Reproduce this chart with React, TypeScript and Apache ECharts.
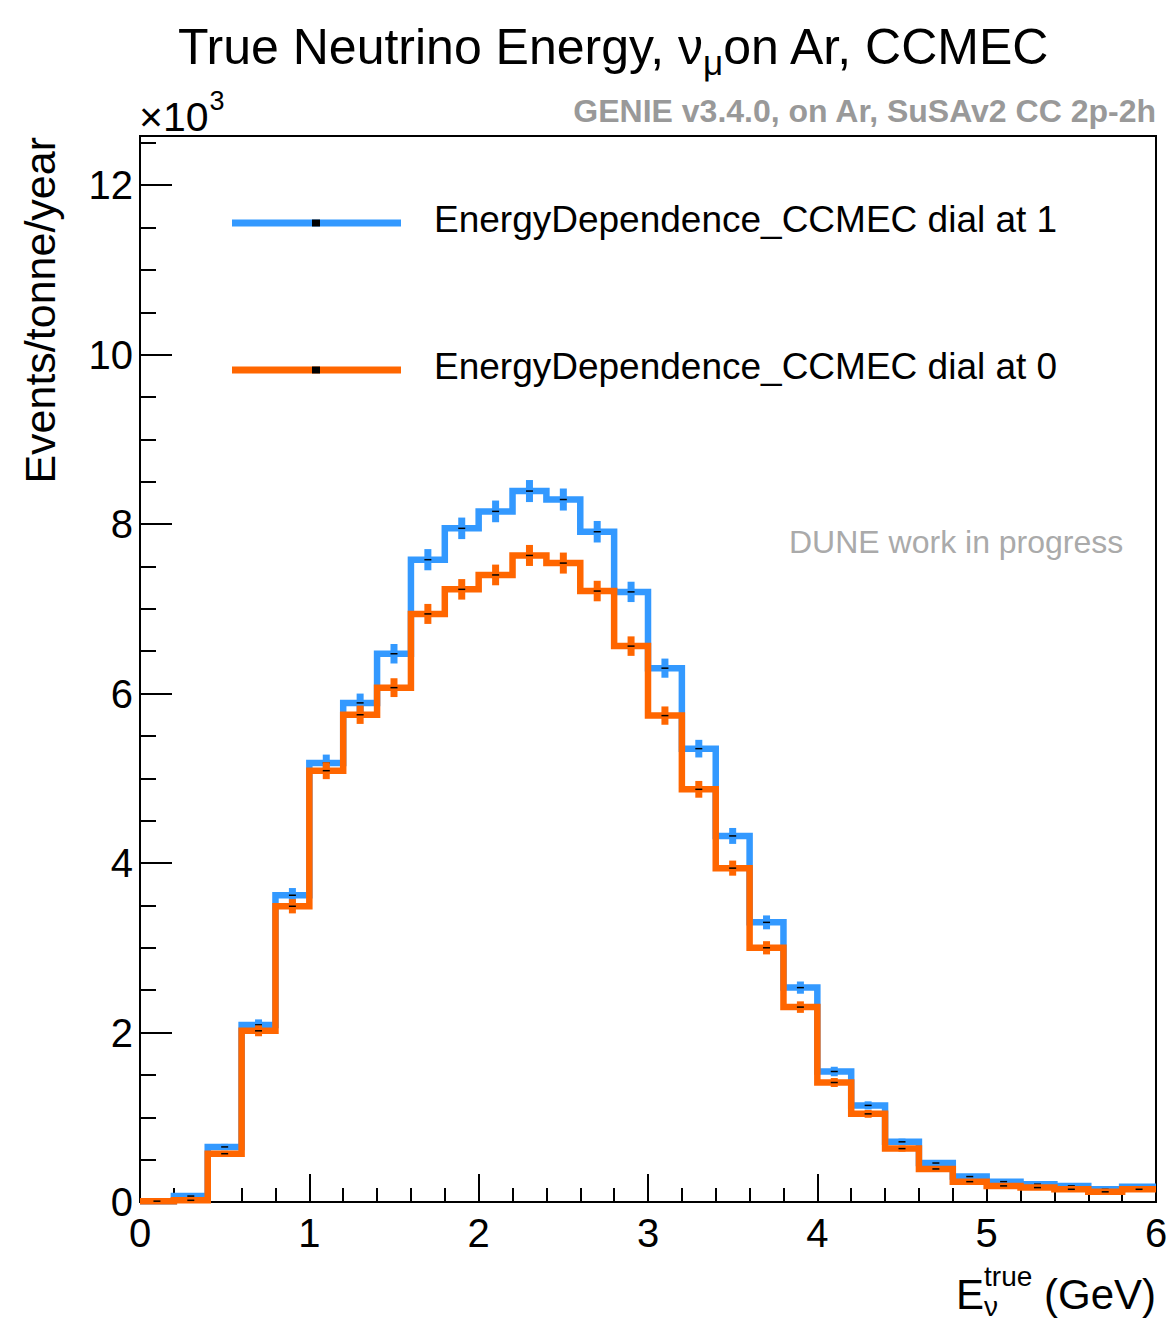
import React, { useEffect, useRef } from "react";
import * as echarts from "echarts";

// ---------------- data (values in units of 10^3 events/tonne/year) ----------------
const BIN_LOW_EDGES = [
  0.0, 0.2, 0.4, 0.6, 0.8, 1.0, 1.2, 1.4, 1.6, 1.8,
  2.0, 2.2, 2.4, 2.6, 2.8, 3.0, 3.2, 3.4, 3.6, 3.8,
  4.0, 4.2, 4.4, 4.6, 4.8, 5.0, 5.2, 5.4, 5.6, 5.8,
];
const BIN_WIDTH = 0.2;

const DIAL1_VALUES = [
  0.01, 0.07, 0.65, 2.09, 3.62, 5.18, 5.89, 6.47, 7.58, 7.95,
  8.15, 8.39, 8.29, 7.91, 7.20, 6.30, 5.35, 4.32, 3.30, 2.53,
  1.54, 1.14, 0.71, 0.46, 0.30, 0.24, 0.21, 0.19, 0.15, 0.18,
];
const DIAL1_ERRORS = [
  0.005, 0.012, 0.036, 0.065, 0.085, 0.10, 0.11, 0.115, 0.125, 0.127,
  0.128, 0.13, 0.13, 0.127, 0.12, 0.113, 0.104, 0.094, 0.082, 0.072,
  0.056, 0.048, 0.038, 0.031, 0.025, 0.022, 0.021, 0.02, 0.017, 0.019,
];
const DIAL0_VALUES = [
  0.01, 0.02, 0.57, 2.02, 3.49, 5.09, 5.75, 6.07, 6.94, 7.23,
  7.40, 7.63, 7.54, 7.21, 6.56, 5.74, 4.87, 3.94, 3.00, 2.30,
  1.41, 1.04, 0.63, 0.39, 0.24, 0.19, 0.17, 0.15, 0.12, 0.15,
];
const DIAL0_ERRORS = [
  0.005, 0.006, 0.034, 0.064, 0.084, 0.10, 0.108, 0.111, 0.118, 0.121,
  0.122, 0.124, 0.124, 0.121, 0.115, 0.108, 0.099, 0.089, 0.078, 0.068,
  0.053, 0.046, 0.036, 0.028, 0.022, 0.02, 0.019, 0.017, 0.016, 0.017,
];

const SERIES_NAMES = [
  "EnergyDependence_CCMEC dial at 1",
  "EnergyDependence_CCMEC dial at 0",
];
const X_MIN = 0;
const X_MAX = 6;
const X_INTERVAL = 1;
const Y_MIN = 0;
const Y_MAX = 12.58;
const Y_INTERVAL = 2;
const Y_MINOR_INTERVAL = 0.5;

const TITLE_MAIN = "True Neutrino Energy, \u03bd";
const TITLE_SUB = "\u03bc";
const TITLE_REST = "on Ar, CCMEC";
const GENIE_TEXT = "GENIE v3.4.0, on Ar, SuSAv2 CC 2p-2h";
const DUNE_TEXT = "DUNE work in progress";
const Y_TITLE = "Events/tonne/year";
const X_TITLE_MAIN = "E";
const X_TITLE_SUP = "true";
const X_TITLE_SUB = "\u03bd";
const X_TITLE_UNIT = " (GeV)";

// ---------------- styles ----------------
const BLUE = "#3399ff";
const ORANGE = "#ff6600";
const FONT = "'Liberation Sans', Arial, Helvetica, sans-serif";
const LINE_W = 6.5;

const GRID_LEFT = 140;
const GRID_TOP = 136;
const GRID_RIGHT_X = 1156;
const GRID_BOTTOM_Y = 1202;
const W = 1167;
const H = 1321;

let measureCtx: CanvasRenderingContext2D | null = null;
function measure(text: string, size: number, weight = "normal"): number {
  if (!measureCtx) measureCtx = document.createElement("canvas").getContext("2d");
  if (!measureCtx) return text.length * size * 0.55;
  measureCtx.font = `${weight} ${size}px ${FONT}`;
  return measureCtx.measureText(text).width;
}

function stepData(values: number[]) {
  const pts = BIN_LOW_EDGES.map((x, i) => [x, values[i]]);
  const last = BIN_LOW_EDGES.length - 1;
  pts.push([BIN_LOW_EDGES[last] + BIN_WIDTH, values[last]]);
  return pts;
}

function errData(values: number[], errors: number[]) {
  return BIN_LOW_EDGES.map((x, i) => [x + BIN_WIDTH / 2, values[i], errors[i]]);
}

function makeErrRender(color: string) {
  return (_params: any, api: any) => {
    const x = api.value(0);
    const v = api.value(1);
    const e = api.value(2);
    const top = api.coord([x, v + e]);
    const bot = api.coord([x, v - e]);
    const mid = api.coord([x, v]);
    return {
      type: "group",
      children: [
        {
          type: "rect",
          shape: { x: top[0] - 3.5, y: top[1], width: 7, height: Math.max(bot[1] - top[1], 0) },
          style: { fill: color },
        },
        {
          type: "rect",
          shape: { x: mid[0] - 3.5, y: mid[1] - 0.75, width: 7, height: 1.5 },
          style: { fill: "#000" },
        },
      ],
    };
  };
}

function txt(
  text: string,
  x: number,
  y: number,
  size: number,
  opts: { color?: string; weight?: string; align?: string; rotation?: number } = {}
) {
  const align = opts.align || "left";
  return {
    type: "text",
    x,
    y,
    rotation: opts.rotation || 0,
    silent: true,
    z: 100,
    style: {
      text,
      fontSize: size,
      fontFamily: FONT,
      fontWeight: opts.weight || "normal",
      fill: opts.color || "#000",
      align,
      verticalAlign: "middle",
      textAlign: align,
      textVerticalAlign: "middle",
    },
  };
}

function buildOption() {
  // Title composed of pieces (subscript mu)
  const TS = 50;
  const TSS = 35;
  const w1 = measure(TITLE_MAIN, TS);
  const w2 = measure(TITLE_SUB, TSS);
  const w3 = measure(TITLE_REST, TS);
  const tStart = 614.5 - (w1 + w2 + w3) / 2;

  // x-axis title pieces
  const XS = 42;
  const XSS = 28;
  const wE = measure(X_TITLE_MAIN, XS);
  const wSup = measure(X_TITLE_SUP, XSS);
  const wSub = measure(X_TITLE_SUB, XSS);
  const wUnit = measure(X_TITLE_UNIT, XS);
  const xtStart = GRID_RIGHT_X - (wE + Math.max(wSup, wSub) + wUnit);

  // x10^3
  const EXP_S = 41;
  const wX10 = measure("\u00d710", EXP_S);

  const legendY = [223, 370];
  const legendColors = [BLUE, ORANGE];

  const graphics: any[] = [
    txt(TITLE_MAIN, tStart, 47, TS),
    txt(TITLE_SUB, tStart + w1, 62, TSS),
    txt(TITLE_REST, tStart + w1 + w2, 47, TS),
    txt(GENIE_TEXT, GRID_RIGHT_X, 111, 32, { color: "#999999", weight: "bold", align: "right" }),
    txt(DUNE_TEXT, 789, 542, 32, { color: "#aaaaaa" }),
    txt("\u00d710", 139, 117, EXP_S),
    txt("3", 139 + wX10 + 1, 101, 27),
    txt(Y_TITLE, 40, GRID_TOP + 1, 43, { align: "right", rotation: Math.PI / 2 }),
    txt(X_TITLE_MAIN, xtStart, 1294, XS),
    txt(X_TITLE_SUP, xtStart + wE, 1276, XSS),
    txt(X_TITLE_SUB, xtStart + wE, 1306, XSS),
    txt(X_TITLE_UNIT, xtStart + wE + Math.max(wSup, wSub), 1294, XS),
  ];
  legendY.forEach((ly, i) => {
    graphics.push({
      type: "line",
      silent: true,
      z: 100,
      shape: { x1: 232, y1: ly, x2: 401, y2: ly },
      style: { stroke: legendColors[i], lineWidth: 7 },
    });
    graphics.push({
      type: "rect",
      silent: true,
      z: 101,
      shape: { x: 312, y: ly - 3.5, width: 8, height: 7 },
      style: { fill: "#000" },
    });
    graphics.push(txt(SERIES_NAMES[i], 434, ly - 4, 37));
  });

  const axisTickStyle = { color: "#000", width: 2 };

  return {
    animation: false,
    backgroundColor: "#ffffff",
    grid: {
      left: GRID_LEFT,
      top: GRID_TOP,
      right: W - GRID_RIGHT_X,
      bottom: H - GRID_BOTTOM_Y,
      show: true,
      borderColor: "#000",
      borderWidth: 2,
      backgroundColor: "transparent",
      containLabel: false,
      outerBoundsMode: "none",
    },
    xAxis: {
      type: "value",
      min: X_MIN,
      max: X_MAX,
      interval: X_INTERVAL,
      axisLine: { show: true, onZero: false, lineStyle: { color: "#000", width: 2 } },
      axisTick: { show: true, inside: true, length: 28, lineStyle: axisTickStyle },
      minorTick: { show: true, splitNumber: 5, length: 14, lineStyle: axisTickStyle },
      splitLine: { show: false },
      minorSplitLine: { show: false },
      axisLabel: {
        show: true,
        fontSize: 40,
        fontFamily: FONT,
        color: "#000",
        margin: 11,
      },
    },
    yAxis: [
      {
        type: "value",
        min: Y_MIN,
        max: Y_MAX,
        interval: Y_INTERVAL,
        position: "left",
        axisLine: { show: true, onZero: false, lineStyle: { color: "#000", width: 2 } },
        axisTick: { show: true, inside: true, length: 32, lineStyle: axisTickStyle },
        splitLine: { show: false },
        axisLabel: {
          show: true,
          fontSize: 40,
          fontFamily: FONT,
          color: "#000",
          margin: 7,
          showMaxLabel: false,
        },
      },
      {
        type: "value",
        min: Y_MIN,
        max: Y_MAX,
        interval: Y_MINOR_INTERVAL,
        position: "left",
        offset: 0,
        axisLine: { show: false },
        axisTick: { show: true, inside: true, length: 16, lineStyle: axisTickStyle },
        splitLine: { show: false },
        axisLabel: { show: false },
      },
    ],
    series: [
      {
        name: SERIES_NAMES[0],
        type: "line",
        step: "end",
        data: stepData(DIAL1_VALUES),
        showSymbol: false,
        symbol: "none",
        silent: true,
        clip: true,
        z: 2,
        lineStyle: { color: BLUE, width: LINE_W, join: "miter", cap: "butt" },
      },
      {
        name: SERIES_NAMES[0] + " errors",
        type: "custom",
        data: errData(DIAL1_VALUES, DIAL1_ERRORS),
        renderItem: makeErrRender(BLUE),
        silent: true,
        clip: true,
        z: 3,
      },
      {
        name: SERIES_NAMES[1],
        type: "line",
        step: "end",
        data: stepData(DIAL0_VALUES),
        showSymbol: false,
        symbol: "none",
        silent: true,
        clip: true,
        z: 4,
        lineStyle: { color: ORANGE, width: LINE_W, join: "miter", cap: "butt" },
      },
      {
        name: SERIES_NAMES[1] + " errors",
        type: "custom",
        data: errData(DIAL0_VALUES, DIAL0_ERRORS),
        renderItem: makeErrRender(ORANGE),
        silent: true,
        clip: true,
        z: 5,
      },
    ],
    graphic: { elements: graphics },
  };
}

export default function App() {
  const ref = useRef<HTMLDivElement>(null);
  useEffect(() => {
    const el = ref.current;
    if (!el) return;
    const chart = echarts.init(el, null, { renderer: "svg" });
    chart.setOption(buildOption() as any);
    return () => {
      chart.dispose();
    };
  }, []);
  return (
    <div
      ref={ref}
      style={{
        position: "absolute",
        left: 0,
        top: 0,
        width: W,
        height: H,
        background: "#ffffff",
      }}
    />
  );
}
